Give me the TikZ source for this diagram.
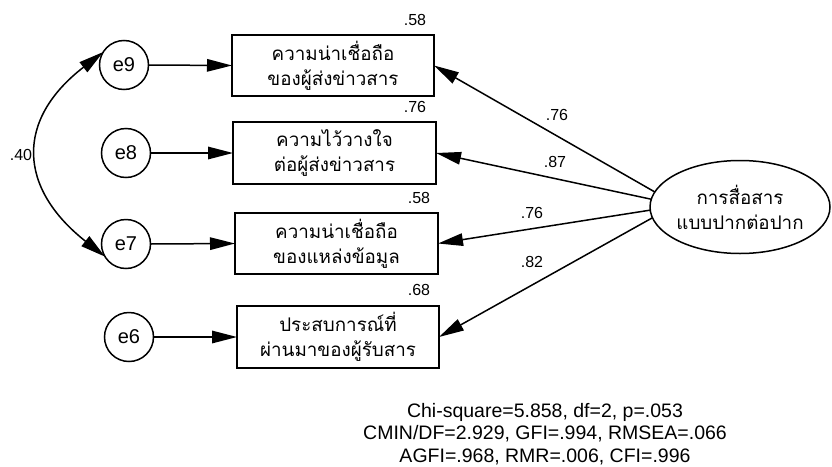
\documentclass[tikz,border=0pt]{standalone}
\usepackage{fontspec}
\setmainfont{Liberation Sans}
\newfontfamily\thaifont[Script=Thai]{Loma}
\usetikzlibrary{arrows.meta,shapes.geometric}
\begin{document}
\begin{tikzpicture}[x=1pt,y=-1pt,
  every node/.style={inner sep=0pt,outer sep=0pt},
  obs/.style={draw,line width=1.5pt,align=center,font=\thaifont\fontsize{18.8}{25}\selectfont},
  err/.style={draw,circle,line width=1.5pt,minimum size=49pt,font=\fontsize{20}{22}\selectfont},
  lat/.style={draw,ellipse,line width=1.5pt,minimum width=180pt,minimum height=93pt,align=center,font=\thaifont\fontsize{18.8}{25}\selectfont},
  num/.style={font=\fontsize{16}{18}\selectfont},
  path/.style={line width=1.5pt,-{Triangle[length=25pt,width=12.5pt]}},
  cov/.style={line width=1.5pt,{Triangle[length=25pt,width=12.5pt]}-{Triangle[length=25pt,width=12.5pt]}}]
\useasboundingbox (0,0) rectangle (832,466);

% observed indicators
\node[obs,minimum width=202pt,minimum height=61pt] (b1) at (333,65.5) {ความน่าเชื่อถือ\\ของผู้ส่งข่าวสาร};
\node[obs,minimum width=203pt,minimum height=62pt] (b2) at (334.5,153) {ความไว้วางใจ\\ต่อผู้ส่งข่าวสาร};
\node[obs,minimum width=203pt,minimum height=61pt] (b3) at (336.5,243.5) {ความน่าเชื่อถือ\\ของแหล่งข้อมูล};
\node[obs,minimum width=202pt,minimum height=62pt] (b4) at (338,337) {ประสบการณ์ที่\\ผ่านมาของผู้รับสาร};

% error terms
\node[err] (e9) at (124,65) {e9};
\node[err] (e8) at (126,153) {e8};
\node[err] (e7) at (126,244) {e7};
\node[err] (e6) at (129,337) {e6};

% latent factor
\node[lat] (f) at (740,207) {การสื่อสาร\\แบบปากต่อปาก};

% error paths
\draw[path] (e9.east) -- (b1.west);
\draw[path] (e8.east) -- (b2.west);
\draw[path] (e7.east) -- (b3.west);
\draw[path] (e6.east) -- (b4.west);

% loadings
\draw[path] (f.170) -- (b1.east);
\draw[path] (f.175) -- (b2.east);
\draw[path] (f.182) -- (b3.east);
\draw[path] (f.187) -- (b4.east);

% error covariance
\draw[cov] (e9.148) .. controls (15,120) and (18,188) .. (e7.211);

% estimates
\node[num] (r1) at (415,20) {.58};
\node[num] (r2) at (415,107) {.76};
\node[num] (r3) at (419,198) {.58};
\node[num] (r4) at (419,290) {.68};
\node[num] (l1) at (557,115) {.76};
\node[num] (l2) at (555,162) {.87};
\node[num] (l3) at (532,213) {.76};
\node[num] (l4) at (532,262) {.82};
\node[num] (c1) at (21,155) {.40};

% fit indices
\node[align=center,font=\fontsize{19.5}{22.5}\selectfont] (fit) at (545,434)
  {Chi-square=5.858, df=2, p=.053\\CMIN/DF=2.929, GFI=.994, RMSEA=.066\\AGFI=.968, RMR=.006, CFI=.996};
\end{tikzpicture}
\end{document}
